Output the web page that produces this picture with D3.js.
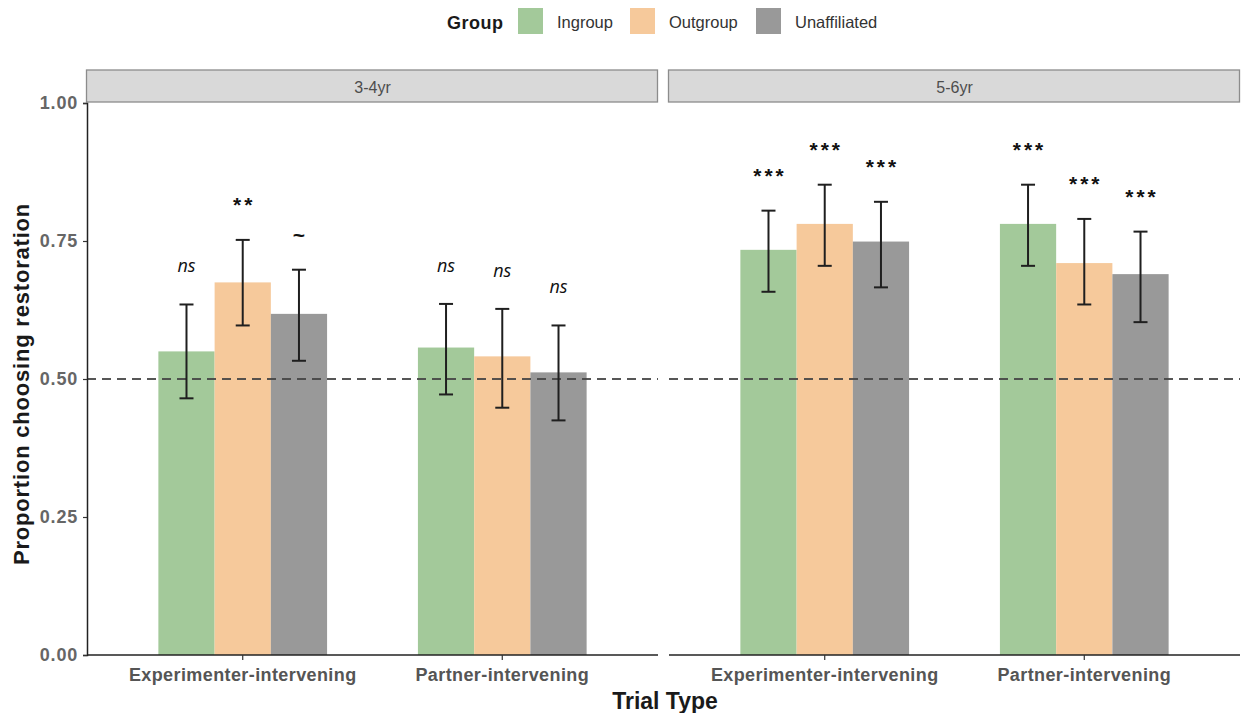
<!DOCTYPE html>
<html>
<head>
<meta charset="utf-8">
<script src="https://cdn.jsdelivr.net/npm/d3@7/dist/d3.min.js"></script>
<style>
  body { margin: 0; background: #fff; }
  svg { font-family: "Liberation Sans", Arial, sans-serif; }
</style>
</head>
<body>
<div id="chart"></div>
<script>
// data
const ages = ["3-4yr", "5-6yr"];
const trialTypes = ["Experimenter-intervening", "Partner-intervening"];
const groups = ["Ingroup", "Outgroup", "Unaffiliated"];
const groupColors = ["#a3c99a", "#f6c99b", "#999999"];

// proportion choosing restoration, [age][trial][group]
const means = [
  [[0.550, 0.675, 0.618], [0.557, 0.541, 0.512]],
  [[0.734, 0.781, 0.749], [0.781, 0.710, 0.690]]
];
const lowers = [
  [[0.465, 0.597, 0.533], [0.472, 0.448, 0.425]],
  [[0.658, 0.705, 0.666], [0.705, 0.635, 0.603]]
];
const uppers = [
  [[0.635, 0.752, 0.698], [0.636, 0.627, 0.597]],
  [[0.805, 0.852, 0.821], [0.852, 0.790, 0.767]]
];
const sigLabels = [
  [["ns", "**", "~"], ["ns", "ns", "ns"]],
  [["***", "***", "***"], ["***", "***", "***"]]
];
const yTicks = [0, 0.25, 0.5, 0.75, 1];
const chanceLevel = 0.5;

const width = 1243, height = 713;
const panelX = [[87, 658], [669, 1240]];
const stripTop = 70, stripBottom = 103;

const svg = d3.select("#chart").append("svg")
  .attr("width", width).attr("height", height);

const y = d3.scaleLinear().domain([0, 1]).range([655, 103]);

// legend
const legend = svg.append("g");
legend.append("text")
  .attr("x", 447).attr("y", 29)
  .attr("font-size", 18).attr("font-weight", "bold").attr("fill", "#1a1a1a")
  .attr("letter-spacing", 0.5)
  .text("Group");
const keyX = [518, 630, 756];
groups.forEach((g, i) => {
  legend.append("rect")
    .attr("x", keyX[i]).attr("y", 8).attr("width", 25).attr("height", 26)
    .attr("fill", groupColors[i]);
  legend.append("text")
    .attr("x", keyX[i] + 39).attr("y", 28)
    .attr("font-size", 16.5).attr("fill", "#333")
    .text(g);
});

ages.forEach((age, a) => {
  const [x0, x1] = panelX[a];
  // ggplot like: discrete expand of 0.6, bar width 0.65
  const unit = (x1 - x0) / 2.2;
  const center = t => x0 + unit * (0.6 + trialTypes.indexOf(t));
  const xg = d3.scaleBand().domain(groups)
    .range([-unit * 0.325, unit * 0.325]);

  const g = svg.append("g");

  // strip
  g.append("rect")
    .attr("x", x0 - 0.5).attr("y", stripTop)
    .attr("width", x1 - x0).attr("height", stripBottom - stripTop - 1)
    .attr("fill", "#d9d9d9").attr("stroke", "#8c8c8c").attr("stroke-width", 1.3);
  g.append("text")
    .attr("x", (x0 + x1) / 2).attr("y", (stripTop + stripBottom) / 2 + 6)
    .attr("text-anchor", "middle").attr("font-size", 16).attr("fill", "#4d4d4d")
    .text(age);

  trialTypes.forEach((t, ti) => {
    groups.forEach((grp, gi) => {
      const bx = center(t) + xg(grp);
      g.append("rect")
        .attr("x", bx).attr("y", y(means[a][ti][gi]))
        .attr("width", xg.bandwidth())
        .attr("height", y(0) - y(means[a][ti][gi]))
        .attr("fill", groupColors[gi]);
    });
  });

  // chance line
  g.append("line")
    .attr("x1", x0).attr("x2", x1)
    .attr("y1", y(chanceLevel)).attr("y2", y(chanceLevel))
    .attr("stroke", "#444").attr("stroke-width", 2)
    .attr("stroke-dasharray", "9,6").attr("opacity", 0.9);

  trialTypes.forEach((t, ti) => {
    groups.forEach((grp, gi) => {
      const cx = center(t) + xg(grp) + xg.bandwidth() / 2;
      const lo = y(lowers[a][ti][gi]), hi = y(uppers[a][ti][gi]);
      const err = g.append("g").attr("stroke", "#1f1f1f").attr("stroke-width", 2);
      err.append("line").attr("x1", cx).attr("x2", cx).attr("y1", lo).attr("y2", hi);
      err.append("line").attr("x1", cx - 7).attr("x2", cx + 7).attr("y1", lo).attr("y2", lo);
      err.append("line").attr("x1", cx - 7).attr("x2", cx + 7).attr("y1", hi).attr("y2", hi);

      const lab = sigLabels[a][ti][gi];
      const isNs = lab === "ns";
      g.append("text")
        .attr("x", cx + (isNs ? 0 : 1.5))
        .attr("y", y(uppers[a][ti][gi] + 0.058) + (isNs ? 0 : 4))
        .attr("text-anchor", "middle")
        .attr("font-family", isNs ? "'Open Sans', sans-serif" : null)
        .attr("font-style", isNs ? "italic" : null)
        .attr("font-weight", isNs ? null : "bold")
        .attr("font-size", isNs ? 18 : 21)
        .attr("letter-spacing", isNs ? 0 : 3)
        .attr("fill", "#111")
        .text(lab);
    });
  });

  // x axis
  const xAxisG = g.append("g").attr("transform", `translate(0,${y(0)})`);
  xAxisG.append("line").attr("x1", x0).attr("x2", x1)
    .attr("stroke", "#222").attr("stroke-width", 1.5);
  trialTypes.forEach(t => {
    xAxisG.append("line").attr("x1", center(t)).attr("x2", center(t))
      .attr("y1", 0).attr("y2", 5).attr("stroke", "#333").attr("stroke-width", 1.2);
    xAxisG.append("text")
      .attr("x", center(t)).attr("y", 26)
      .attr("text-anchor", "middle").attr("font-size", 18).attr("font-weight", "bold")
      .attr("letter-spacing", 0.4)
      .attr("fill", "#555")
      .text(t);
  });
});

// y axis on left panel only
const yAxis = svg.append("g")
  .attr("transform", `translate(${panelX[0][0]},0)`)
  .call(d3.axisLeft(y).tickValues(yTicks).tickFormat(d3.format(".2f")).tickSize(4).tickPadding(5));
yAxis.select(".domain").attr("stroke", "#222").attr("stroke-width", 1.5);
yAxis.selectAll(".tick line").attr("stroke", "#333").attr("stroke-width", 1.2);
yAxis.selectAll(".tick text")
  .attr("font-size", 18).attr("font-weight", "bold").attr("fill", "#666")
  .attr("letter-spacing", 0.8)
  .attr("font-family", "'Liberation Sans', Arial, sans-serif");

// axis titles
svg.append("text")
  .attr("transform", `translate(29,${(y(0) + y(1)) / 2 + 5}) rotate(-90)`)
  .attr("text-anchor", "middle").attr("font-size", 22).attr("font-weight", "bold")
  .attr("letter-spacing", 0.8)
  .attr("fill", "#1a1a1a")
  .text("Proportion choosing restoration");
svg.append("text")
  .attr("x", 665).attr("y", 709)
  .attr("text-anchor", "middle").attr("font-size", 23).attr("font-weight", "bold")
  .attr("fill", "#1a1a1a")
  .text("Trial Type");
</script>
</body>
</html>
